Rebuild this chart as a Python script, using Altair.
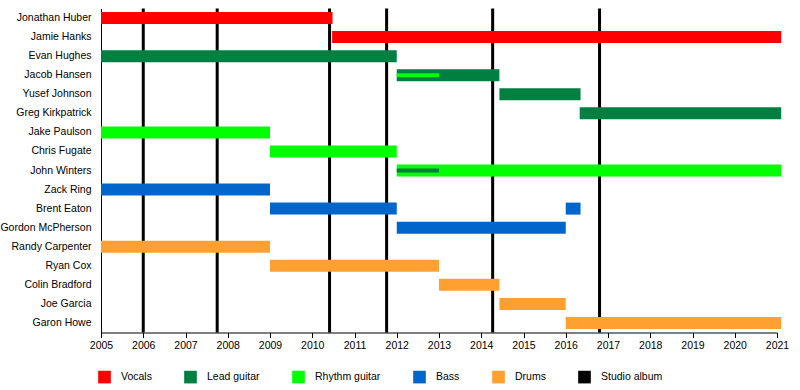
import altair as alt
import pandas as pd

members = ["Jonathan Huber", "Jamie Hanks", "Evan Hughes", "Jacob Hansen", "Yusef Johnson",
           "Greg Kirkpatrick", "Jake Paulson", "Chris Fugate", "John Winters", "Zack Ring",
           "Brent Eaton", "Gordon McPherson", "Randy Carpenter", "Ryan Cox", "Colin Bradford",
           "Joe Garcia", "Garon Howe"]

roles = ["Vocals", "Lead guitar", "Rhythm guitar", "Bass", "Drums", "Studio album"]
role_colors = ["#FF0000", "#008040", "#00FF00", "#0066CC", "#FFA030", "#000000"]

# main tenure bars
bar_member = ["Jonathan Huber", "Jamie Hanks", "Evan Hughes", "Jacob Hansen", "Yusef Johnson",
              "Greg Kirkpatrick", "Jake Paulson", "Chris Fugate", "John Winters", "Zack Ring",
              "Brent Eaton", "Brent Eaton", "Gordon McPherson", "Randy Carpenter", "Ryan Cox",
              "Colin Bradford", "Joe Garcia", "Garon Howe"]
bar_role = ["Vocals", "Vocals", "Lead guitar", "Lead guitar", "Lead guitar",
            "Lead guitar", "Rhythm guitar", "Rhythm guitar", "Rhythm guitar", "Bass",
            "Bass", "Bass", "Bass", "Drums", "Drums",
            "Drums", "Drums", "Drums"]
bar_start = [2005.0, 2010.47, 2005.0, 2012.0, 2014.43,
             2016.33, 2005.0, 2009.0, 2012.0, 2005.0,
             2009.0, 2016.0, 2012.0, 2005.0, 2009.0,
             2013.0, 2014.43, 2016.0]
bar_end = [2010.48, 2021.1, 2012.0, 2014.43, 2016.35,
           2021.1, 2009.0, 2012.0, 2021.1, 2009.0,
           2012.0, 2016.35, 2016.0, 2009.0, 2013.0,
           2014.43, 2016.0, 2021.1]

# thin secondary-role bars
thin_member = ["Jacob Hansen", "John Winters"]
thin_role = ["Rhythm guitar", "Lead guitar"]
thin_start = [2012.0, 2012.0]
thin_end = [2013.0, 2013.0]

# studio albums
album_years = [2006.0, 2007.75, 2010.41, 2011.76, 2014.27, 2016.8]

year_ticks = list(range(2005, 2022))

bars = pd.DataFrame({"member": bar_member, "role": bar_role, "start": bar_start, "end": bar_end})
thin = pd.DataFrame({"member": thin_member, "role": thin_role, "start": thin_start, "end": thin_end})
albums = pd.DataFrame({"year": album_years})

FONT = "Liberation Sans"

xscale = alt.Scale(domain=[2005, 2021], nice=False, zero=False)
yscale = alt.Scale(domain=members, paddingInner=0, paddingOuter=0)
cscale = alt.Scale(domain=roles, range=role_colors)

rules = alt.Chart(albums).mark_rule(strokeWidth=3, color="black").encode(
    x=alt.X("year:Q", scale=xscale)
)

main = alt.Chart(bars).mark_bar(size=12).encode(
    x=alt.X("start:Q", scale=xscale,
            axis=alt.Axis(values=year_ticks, format="d", title=None, grid=False,
                          tickSize=5, labelPadding=3, labelFlush=False,
                          domainColor="black", tickColor="black",
                          labelColor="black", labelFontSize=10.5, labelFont=FONT)),
    x2="end:Q",
    y=alt.Y("member:N", scale=yscale, sort=members,
            axis=alt.Axis(title=None, ticks=False, grid=False, labelPadding=10,
                          domainColor="black", labelColor="black",
                          labelFontSize=10.5, labelFont=FONT)),
    color=alt.Color("role:N", scale=cscale,
                    legend=alt.Legend(title=None, orient="none", direction="horizontal",
                                      legendX=-3, legendY=362, symbolType="square",
                                      symbolSize=160, symbolStrokeWidth=0,
                                      labelFontSize=10.5, labelFont=FONT, labelColor="black",
                                      labelOffset=10, columnPadding=32, padding=0)),
)

thin_bars = alt.Chart(thin).mark_bar(size=4).encode(
    x=alt.X("start:Q", scale=xscale),
    x2="end:Q",
    y=alt.Y("member:N", scale=yscale, sort=members),
    color=alt.Color("role:N", scale=cscale),
)

chart = alt.layer(rules, main, thin_bars).properties(
    width=676, height=324,
    autosize=alt.AutoSizeParams(type="none"),
    padding={"left": 101, "top": 8.5, "right": 23, "bottom": 57.5},
).configure_view(stroke=None)

chart.save("out.html", embed_options={"renderer": "svg", "actions": False})
